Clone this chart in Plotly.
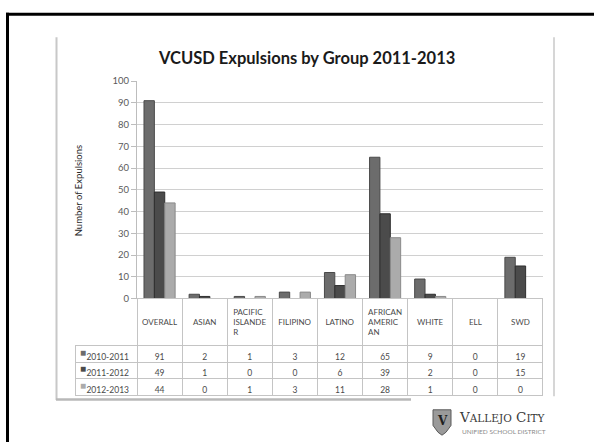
import plotly.graph_objects as go

W, H = 594, 447

categories = ["OVERALL", "ASIAN", "PACIFIC ISLANDER", "FILIPINO", "LATINO",
              "AFRICAN AMERICAN", "WHITE", "ELL", "SWD"]
NB = "\u00a0"
header_labels = [NB + "<br>OVERALL", NB + "<br>ASIAN", "PACIFIC<br>ISLANDE<br>R", NB + "<br>FILIPINO",
                 NB + "<br>LATINO", "AFRICAN<br>AMERIC<br>AN", NB + "<br>WHITE", NB + "<br>ELL", NB + "<br>SWD"]
series_names = ["2010-2011", "2011-2012", "2012-2013"]
v2011 = [91, 2, 1, 3, 12, 65, 9, 0, 19]
v2012 = [49, 1, 0, 0, 6, 39, 2, 0, 15]
v2013 = [44, 0, 1, 3, 11, 28, 1, 0, 0]
y_ticks = [0, 10, 20, 30, 40, 50, 60, 70, 80, 90, 100]

colors = ["#6c6c6c", "#4b4b4b", "#ababab"]
edge_colors = ["#4a4a4a", "#2e2e2e", "#8a8a8a"]
series_values = [v2011, v2012, v2013]

def px(x):
    return x / W

def py(y):
    return 1 - y / H

FONT = "Lato"
TXT = "#4a4a4a"

fig = go.Figure()
for name, vals, c, ec in zip(series_names, series_values, colors, edge_colors):
    fig.add_trace(go.Bar(x=categories, y=vals, name=name,
                         marker=dict(color=c, line=dict(color=ec, width=1)),
                         showlegend=False))

# data table under the chart
TABLE_TOP, HEADER_H, ROW_H = 300, 45, 16.7
cell_values = [series_names] + [[a, b, c] for a, b, c in zip(v2011, v2012, v2013)]
grid = "#c4c4c4"
CLEAR = "rgba(0,0,0,0)"
fig.add_trace(go.Table(
    domain=dict(x=[px(75), px(543)], y=[py(418), py(TABLE_TOP)]),
    columnwidth=[62] + [45.1] * 9,
    header=dict(values=[""] + header_labels, height=HEADER_H, align="center",
                fill=dict(color=[CLEAR] + ["white"] * 9),
                line=dict(color=[CLEAR] + [grid] * 9, width=1),
                font=dict(family=FONT, size=8, color=TXT)),
    cells=dict(values=cell_values, height=ROW_H,
               align=["right"] + ["center"] * 9,
               fill=dict(color="white"),
               line=dict(color=grid, width=1),
               font=dict(family=FONT, size=8.5, color=TXT)),
))

fig.update_layout(
    width=W, height=H,
    margin=dict(l=0, r=0, t=0, b=0),
    paper_bgcolor="white", plot_bgcolor="white",
    barmode="group", bargap=0.31, bargroupgap=0,
    xaxis=dict(domain=[px(137), px(543)], showticklabels=False, ticks="",
               showgrid=False, showline=False, zeroline=False, fixedrange=True),
    yaxis=dict(domain=[py(300), py(77)], range=[0, 100], tickvals=y_ticks,
               showgrid=True, gridcolor="#d0d0d0", gridwidth=1,
               showline=True, linecolor="#bdbdbd", linewidth=1,
               ticks="outside", ticklen=5, tickcolor="#bdbdbd",
               zeroline=False,
               tickfont=dict(family=FONT, size=9.5, color="#5a5a5a")),
    font=dict(family=FONT),
)

def ann(text, x, y, size, color, family=FONT, xanchor="center", **kw):
    return dict(text=text, x=px(x), y=py(y), xref="paper", yref="paper",
                xanchor=xanchor, yanchor="middle", showarrow=False,
                font=dict(family=family, size=size, color=color), **kw)

annotations = [
    ann("<b>VCUSD Expulsions by Group 2011-2013</b>", 306, 53, 16.5, "#1a1a1a"),
    ann("Number of Expulsions", 78, 190, 9.5, "#2a2a2a", textangle=-90),
    ann('V<span style="font-size:10.5px">ALLEJO</span> C<span style="font-size:10.5px">ITY</span>',
        457, 421.5, 13.5, "#3a3a3a", family="DejaVu Serif", xanchor="left"),
    ann("UNIFIED SCHOOL DISTRICT", 460, 436, 6.5, "#8a8a8a", xanchor="left"),
    ann("<b>V</b>", 442, 425, 12, "#1f1f1f", family="DejaVu Serif"),
]
# legend keys in the table's row headers
for i, c in enumerate(colors):
    annotations.append(ann("■", 83, TABLE_TOP + HEADER_H + ROW_H * (i + 0.5) + 1.5, 10, c))

def pth(points):
    return "M " + " L ".join(f"{px(x):.5f},{py(y):.5f}" for x, y in points) + " Z"

def line(x0, y0, x1, y1, color, width):
    return dict(type="line", x0=px(x0), x1=px(x1), y0=py(y0), y1=py(y1),
                xref="paper", yref="paper", line=dict(color=color, width=width))

shapes = [
    line(6, 8.5, 594, 8.5, "black", 3),
    line(7.5, 7, 7.5, 447, "black", 3),
    line(56.5, 32, 56.5, 404, "#c8c8c8", 2),
    line(554, 32, 554, 400, "#c8c8c8", 1.5),
    line(56, 403.5, 411, 403.5, "#b8b8b8", 2.5),
    dict(type="path", xref="paper", yref="paper",
         path=pth([(433, 414), (451, 414), (451, 430), (446, 437), (442, 440), (438, 437), (433, 430)]),
         fillcolor="#9a9a9a", line=dict(color="#5a5a5a", width=1)),
]

fig.update_layout(annotations=annotations, shapes=shapes)
fig.write_html("out.html", config={"displayModeBar": False},
               post_script="document.body.style.margin='0';document.body.style.overflow='hidden';")
